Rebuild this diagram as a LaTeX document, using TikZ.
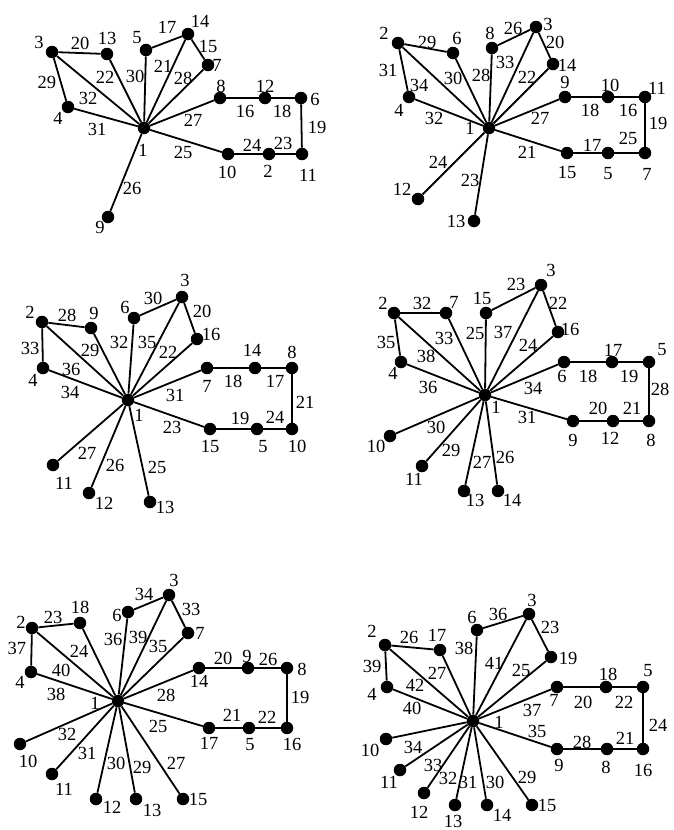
\documentclass[tikz,border=0pt]{standalone}
\usepackage{fontspec}
\setmainfont{Liberation Serif}
\begin{document}
\begin{tikzpicture}[x=1pt,y=-1pt,
  dot/.style={circle,fill=black,inner sep=0pt,minimum size=12.5pt},
  link/.style={line width=1.8pt,black},
  lbl/.style={inner sep=0pt,font=\fontsize{18.5}{18.5}\selectfont}]
\useasboundingbox (0,0) rectangle (674,830);
% ---------- Graph A ----------
\foreach \n/\x/\y in {1/144/128, 2/269/154, 3/52/52, 4/68/107, 5/146/50, 6/301/98, 7/208/65, 8/220/98, 9/108/217, 10/228/154, 11/302/154, 12/265/98, 13/107/54, 14/188/34}
  \node[dot] (A\n) at (\x,\y) {};
\foreach \a/\b in {3/13, 3/4, 3/1, 13/1, 5/1, 5/14, 14/1, 14/7, 7/1, 4/1, 8/1, 8/12, 12/6, 6/11, 11/2, 2/10, 10/1, 9/1}
  \draw[link] (A\a) -- (A\b);
\foreach \t/\x/\y in {1/143/150, 2/268/171, 3/39/42, 4/58/118, 5/137/38, 6/315/99, 7/217/65, 8/221/86, 9/100/227, 10/227/172, 11/308/175, 12/265/86, 13/107/38, 14/200/21, 15/208/46, 16/245/111, 17/167/27, 18/282/111, 19/317/127, 20/80/43, 21/163/66, 22/105/77, 23/283/143, 24/252/145, 25/183/152, 26/132/188, 27/193/120, 28/183/78, 29/47/82, 30/135/76, 31/97/129, 32/88/98}
  \node[lbl] (AL\t) at (\x,\y) {\t};
% ---------- Graph B ----------
\foreach \n/\x/\y in {1/489/128, 2/398/43, 3/536/27, 4/409/97, 5/608/153, 6/453/53, 7/645/153, 8/492/48, 9/565/97, 10/608/97, 11/645/97, 12/418/199, 13/474/221, 14/553/64, 15/567/153}
  \node[dot] (B\n) at (\x,\y) {};
\foreach \a/\b in {2/6, 2/4, 2/1, 6/1, 8/1, 8/3, 3/1, 3/14, 14/1, 4/1, 9/1, 9/10, 10/11, 11/7, 7/5, 5/15, 15/1, 12/1, 13/1}
  \draw[link] (B\a) -- (B\b);
\foreach \t/\x/\y in {1/470/128, 2/384/33, 3/548/24, 4/399/110, 5/608/174, 6/457/38, 7/647/174, 8/490/33, 9/565/82, 10/610/85, 11/657/88, 12/402/189, 13/456/221, 14/567/65, 15/567/172, 16/628/110, 17/592/145, 18/590/110, 19/658/123, 20/555/42, 21/527/152, 22/527/77, 23/470/180, 24/438/162, 25/628/138, 26/513/28, 27/540/118, 28/481/75, 29/427/42, 30/453/78, 31/388/70, 32/434/118, 33/505/62, 34/419/85}
  \node[lbl] (BL\t) at (\x,\y) {\t};
% ---------- Graph C ----------
\foreach \n/\x/\y in {1/128/400, 2/42/322, 3/182/297, 4/43/368, 5/257/429, 6/134/318, 7/207/368, 8/292/368, 9/91/328, 10/292/429, 11/53/465, 12/89/493, 13/150/502, 14/255/368, 15/210/429, 16/197/339}
  \node[dot] (C\n) at (\x,\y) {};
\foreach \a/\b in {2/9, 2/4, 2/1, 9/1, 6/1, 6/3, 3/1, 3/16, 16/1, 4/1, 7/1, 7/14, 14/8, 8/10, 10/5, 5/15, 15/1, 11/1, 12/1, 13/1}
  \draw[link] (C\a) -- (C\b);
\foreach \t/\x/\y in {1/139/415, 2/30/312, 3/185/280, 4/33/380, 5/263/447, 6/125/307, 7/207/386, 8/292/352, 9/94/313, 10/297/446, 11/64/483, 12/104/503, 13/165/507, 14/252/350, 15/210/446, 16/211/334, 17/275/381, 18/233/381, 19/240/418, 20/202/311, 21/305/402, 22/168/352, 23/172/427, 24/275/417, 25/157/467, 26/115/465, 27/87/453, 28/67/315, 29/90/350, 30/153/298, 31/175/395, 32/119/342, 33/30/348, 34/70/392, 35/147/342, 36/71/369}
  \node[lbl] (CL\t) at (\x,\y) {\t};
% ---------- Graph D ----------
\foreach \n/\x/\y in {1/485/395, 2/394/313, 3/541/285, 4/401/362, 5/649/362, 6/564/362, 7/446/313, 8/649/421, 9/573/421, 10/390/436, 11/422/466, 12/613/421, 13/464/491, 14/498/491, 15/486/313, 16/558/332, 17/612/362}
  \node[dot] (D\n) at (\x,\y) {};
\foreach \a/\b in {2/7, 2/4, 2/1, 7/1, 15/1, 15/3, 3/1, 3/16, 16/1, 4/1, 6/1, 6/17, 17/5, 5/8, 8/12, 12/9, 9/1, 10/1, 11/1, 13/1, 14/1}
  \draw[link] (D\a) -- (D\b);
\foreach \t/\x/\y in {1/496/407, 2/383/303, 3/551/270, 4/393/373, 5/662/350, 6/562/376, 7/454/302, 8/651/440, 9/573/440, 10/376/446, 11/414/479, 12/610/438, 13/475/500, 14/512/500, 15/482/298, 16/570/329, 17/613/350, 18/588/376, 19/629/376, 20/598/408, 21/632/408, 22/558/303, 23/516/284, 24/528/345, 25/475/333, 26/505/457, 27/482/462, 28/660/389, 29/451/450, 30/436/427, 31/527/417, 32/422/303, 33/444/338, 34/533/388, 35/386/342, 36/428/387, 37/503/332, 38/426/356}
  \node[lbl] (DL\t) at (\x,\y) {\t};
% ---------- Graph E ----------
\foreach \n/\x/\y in {1/118/701, 2/32/628, 3/169/595, 4/31/672, 5/249/728, 6/128/612, 7/188/633, 8/287/668, 9/248/668, 10/20/744, 11/52/774, 12/96/799, 13/136/799, 14/199/668, 15/183/799, 16/287/728, 17/209/728, 18/80/623}
  \node[dot] (E\n) at (\x,\y) {};
\foreach \a/\b in {2/18, 2/4, 2/1, 18/1, 6/1, 6/3, 3/1, 3/7, 7/1, 4/1, 14/1, 14/9, 9/8, 8/16, 16/5, 5/17, 17/1, 10/1, 11/1, 12/1, 13/1, 15/1}
  \draw[link] (E\a) -- (E\b);
\foreach \t/\x/\y in {1/95/703, 2/21/622, 3/174/580, 4/20/682, 5/250/745, 6/117/615, 7/200/633, 8/302/669, 9/247/656, 10/28/761, 11/64/789, 12/112/807, 13/152/810, 14/199/681, 15/198/799, 16/292/744, 17/209/743, 18/80/607, 19/300/697, 20/223/658, 21/232/715, 22/267/717, 23/53/617, 24/79/651, 25/158/726, 26/268/659, 27/176/763, 28/166/695, 29/142/767, 30/116/763, 31/87/753, 32/67/734, 33/191/609, 34/144/594, 35/158/646, 36/113/639, 37/17/648, 38/56/694, 39/138/637, 40/61/670}
  \node[lbl] (EL\t) at (\x,\y) {\t};
% ---------- Graph F ----------
\foreach \n/\x/\y in {1/473/721, 2/385/645, 3/529/614, 4/387/687, 5/643/687, 6/477/630, 7/557/687, 8/607/749, 9/557/749, 10/386/739, 11/400/770, 12/424/793, 13/455/805, 14/487/805, 15/532/805, 16/643/749, 17/440/650, 18/606/687, 19/551/657}
  \node[dot] (F\n) at (\x,\y) {};
\foreach \a/\b in {2/17, 2/4, 2/1, 17/1, 6/1, 6/3, 3/1, 3/19, 19/1, 4/1, 7/1, 7/18, 18/5, 5/16, 16/8, 8/9, 9/1, 10/1, 11/1, 12/1, 13/1, 14/1, 15/1}
  \draw[link] (F\a) -- (F\b);
\foreach \t/\x/\y in {1/499/722, 2/372/631, 3/532/600, 4/372/694, 5/648/671, 6/472/617, 7/554/700, 8/606/767, 9/559/765, 10/370/750, 11/389/782, 12/419/812, 13/453/821, 14/502/815, 15/547/805, 16/643/770, 17/437/635, 18/608/674, 19/568/658, 20/583/702, 21/625/738, 22/624/702, 23/550/627, 24/658/725, 25/521/670, 26/409/637, 27/437/673, 28/582/742, 29/527/777, 30/495/782, 31/468/782, 32/448/778, 33/433/765, 34/413/747, 35/537/731, 36/498/614, 37/532/710, 38/464/648, 39/372/666, 40/412/708, 41/494/663, 42/415/685}
  \node[lbl] (FL\t) at (\x,\y) {\t};
\end{tikzpicture}
\end{document}
